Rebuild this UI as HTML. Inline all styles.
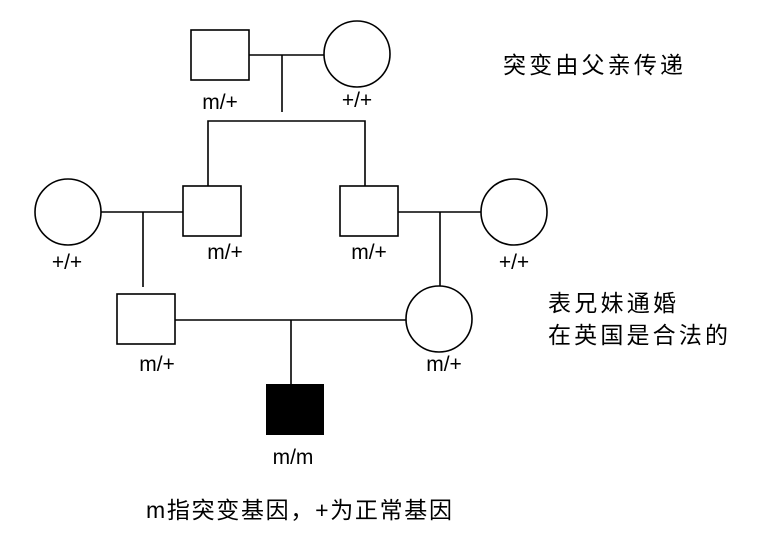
<!DOCTYPE html>
<html><head><meta charset="utf-8"><style>html,body{margin:0;padding:0;background:#fff}</style></head>
<body>
<svg width="758" height="537" xmlns="http://www.w3.org/2000/svg" style="display:block">
<g fill="none" stroke="#000" stroke-width="1.6">
<rect x="191" y="30" width="58" height="50"/>
<circle cx="357" cy="54" r="33"/>
<line x1="249" y1="55" x2="324" y2="55"/>
<line x1="282" y1="55" x2="282" y2="112"/>
<polyline points="208,186 208,121 365,121 365,186"/>
<rect x="183" y="186" width="58" height="50"/>
<rect x="340" y="186" width="58" height="50"/>
<circle cx="68" cy="212" r="33"/>
<circle cx="514" cy="212" r="33"/>
<line x1="101" y1="212" x2="183" y2="212"/>
<line x1="143" y1="212" x2="143" y2="287"/>
<line x1="398" y1="212" x2="481" y2="212"/>
<line x1="440" y1="212" x2="440" y2="286"/>
<rect x="117" y="294" width="58" height="50"/>
<circle cx="439" cy="319" r="33"/>
<line x1="175" y1="320" x2="406" y2="320"/>
<line x1="291" y1="320" x2="291" y2="384"/>
</g>
<rect x="266" y="384" width="58" height="51" fill="#000"/>
<g font-family="Liberation Sans, sans-serif" font-size="21" text-anchor="middle" fill="#000">
<text x="220" y="109">m/+</text>
<text x="357" y="107">+/+</text>
<text x="225" y="259">m/+</text>
<text x="369" y="259">m/+</text>
<text x="67" y="269">+/+</text>
<text x="514" y="269">+/+</text>
<text x="157" y="371">m/+</text>
<text x="444" y="371">m/+</text>
<text x="293" y="464">m/m</text>
</g>
<g font-family="Liberation Sans, 'Noto Sans CJK SC', sans-serif" font-size="23" fill="#000">
<text x="503" y="73" textLength="180" lengthAdjust="spacing">突变由父亲传递</text>
<text x="548" y="311" textLength="128" lengthAdjust="spacing">表兄妹通婚</text>
<text x="548" y="343" textLength="180" lengthAdjust="spacing">在英国是合法的</text>
<text x="146" y="518" textLength="306" lengthAdjust="spacing">m指突变基因，+为正常基因</text>
</g>
</svg>
</body></html>
